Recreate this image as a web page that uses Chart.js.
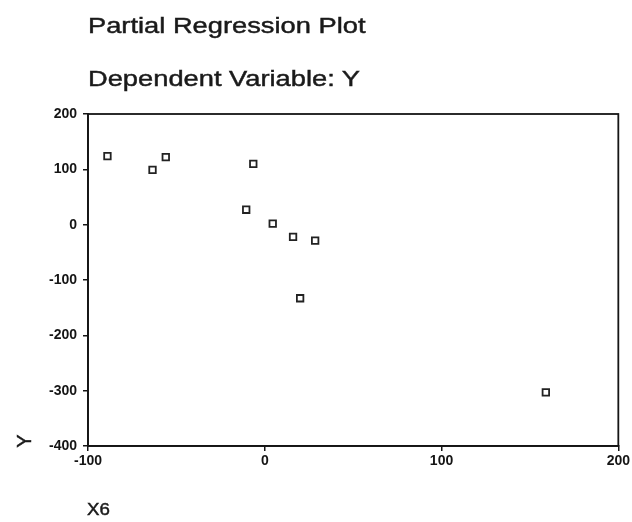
<!DOCTYPE html>
<html lang="en">

<head>
  <meta charset="UTF-8" />
  <title>Partial Regression Plot</title>
  <script src="https://cdn.jsdelivr.net/npm/chart.js"></script>
  <style>
    * {
      box-sizing: border-box;
    }

    body {
      margin: 0;
      background: #fff;
      font-family: 'Liberation Sans', Arial, sans-serif;
      color: #1a1a1a;
    }

    .wrap {
      position: relative;
      width: 632px;
      height: 522px;
      overflow: hidden;
    }

    canvas {
      position: absolute;
      left: 0;
      top: 0;
    }

    .txt {
      position: absolute;
      white-space: nowrap;
      transform-origin: left top;
      -webkit-text-stroke: 0.45px #1a1a1a;
    }

    .title {
      left: 88px;
      font-size: 22px;
      line-height: 22px;
      transform: scaleX(1.24);
    }

    .xlabel {
      left: 87px;
      top: 501px;
      font-size: 17px;
      line-height: 17px;
      transform: scaleX(1.1);
    }

    .ylabel {
      left: 24px;
      top: 441px;
      font-size: 20px;
      line-height: 20px;
      transform: translate(-50%, -50%) rotate(-90deg);
      transform-origin: center;
    }
  </style>
</head>

<body>
  <div class="wrap">
    <canvas id="plot" width="632" height="522"></canvas>
    <div class="txt title" style="top: 15px">Partial Regression Plot</div>
    <div class="txt title" style="top: 68px">Dependent Variable: Y</div>
    <div class="txt ylabel">Y</div>
    <div class="txt xlabel">X6</div>
  </div>

  <script>
    // values
    const x6 = [-89, -63.5, -56, -6.5, -10.5, 4.5, 16, 28.5, 20, 159];
    const yResid = [124, 99, 122, 110, 27, 2, -22, -29, -133, -303];
    const xTicks = [-100, 0, 100, 200];
    const yTicks = [-400, -300, -200, -100, 0, 100, 200];

    const ink = '#151515';
    const tickFont = { family: "'Liberation Sans', Arial, sans-serif", size: 14, weight: 'bold' };

    // closes the box round the plot area
    const frame = {
      id: 'frame',
      afterDraw(chart) {
        const a = chart.chartArea;
        const c = chart.ctx;
        c.save();
        c.strokeStyle = ink;
        c.lineWidth = 1.8;
        c.strokeRect(a.left, a.top, a.right - a.left, a.bottom - a.top);
        c.restore();
      }
    };

    new Chart(document.getElementById('plot'), {
      type: 'scatter',
      data: {
        datasets: [{
          data: x6.map((v, i) => ({ x: v, y: yResid[i] })),
          pointStyle: 'rect',
          pointRadius: 4.6,
          pointHoverRadius: 4.6,
          borderWidth: 1.8,
          borderColor: '#222',
          backgroundColor: 'rgba(0,0,0,0)'
        }]
      },
      options: {
        responsive: false,
        animation: false,
        events: [],
        layout: { padding: { top: 114, right: 13, bottom: 0, left: 0 } },
        plugins: {
          legend: { display: false },
          tooltip: { enabled: false }
        },
        scales: {
          x: {
            type: 'linear',
            min: xTicks[0],
            max: xTicks[xTicks.length - 1],
            afterBuildTicks: s => { s.ticks = xTicks.map(v => ({ value: v })); },
            afterFit: s => { s.height = 76; },
            grid: { drawOnChartArea: false, tickLength: 5, color: ink, lineWidth: 1.5 },
            border: { color: ink, width: 1.8 },
            ticks: { color: ink, font: tickFont, padding: 2, maxRotation: 0 }
          },
          y: {
            min: yTicks[0],
            max: yTicks[yTicks.length - 1],
            afterBuildTicks: s => { s.ticks = yTicks.map(v => ({ value: v })); },
            afterFit: s => { s.width = 88; },
            grid: { drawOnChartArea: false, tickLength: 5, color: ink, lineWidth: 1.5 },
            border: { color: ink, width: 1.8 },
            ticks: { color: ink, font: tickFont, padding: 6 }
          }
        }
      },
      plugins: [frame]
    });
  </script>
</body>

</html>
